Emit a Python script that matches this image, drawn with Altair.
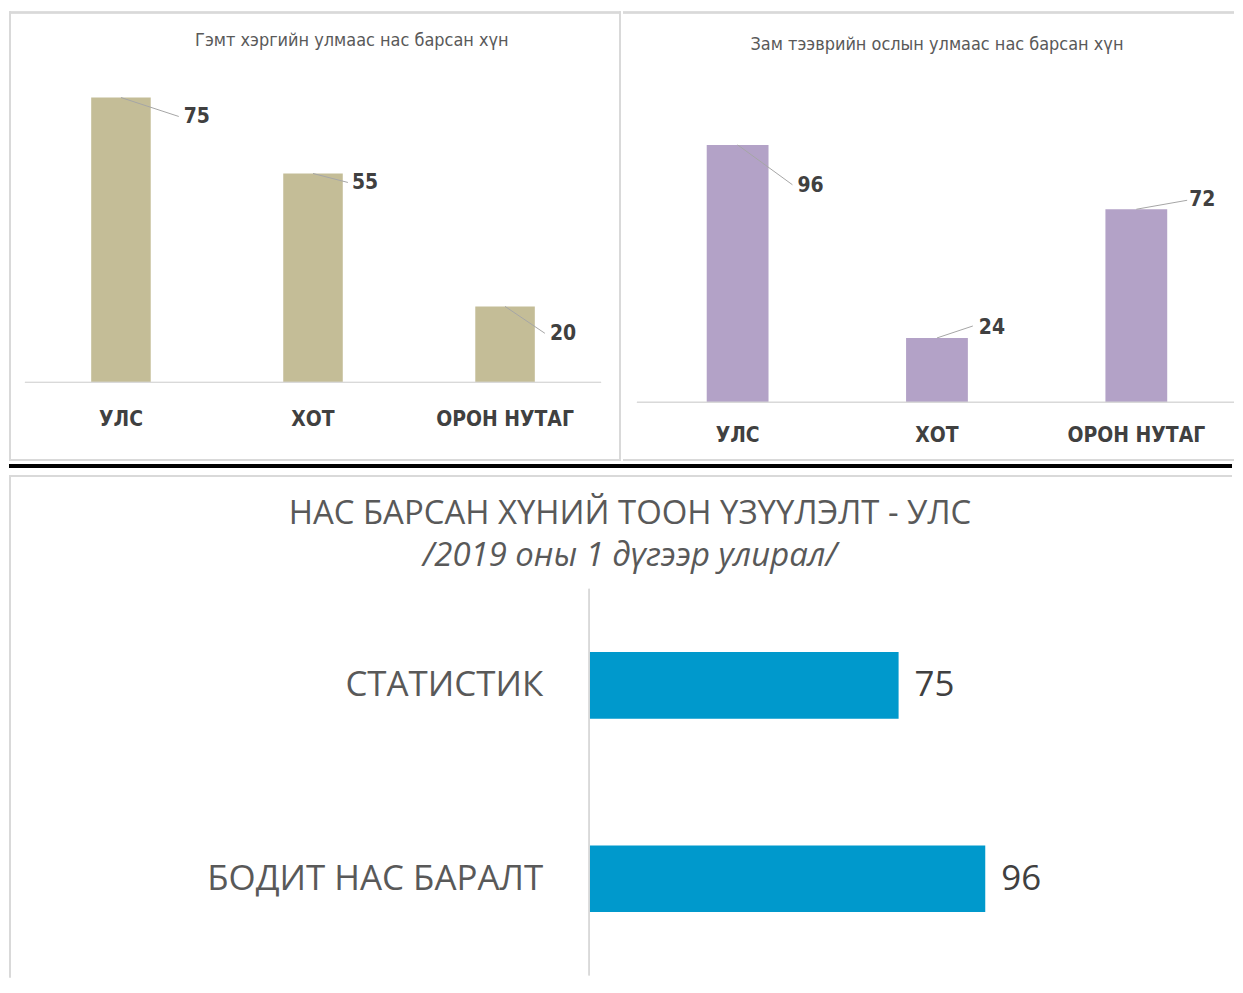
import altair as alt
import pandas as pd

# ---------------- data ----------------
regions = ["УЛС", "ХОТ", "ОРОН НУТАГ"]
crime_deaths = [75, 55, 20]
traffic_deaths = [96, 24, 72]
compare_labels = ["СТАТИСТИК", "БОДИТ НАС БАРАЛТ"]
compare_values = [75, 96]

title_crime = "Гэмт хэргийн улмаас нас барсан хүн"
title_traffic = "Зам тээврийн ослын улмаас нас барсан хүн"
title_main = "НАС БАРСАН ХҮНИЙ ТООН ҮЗҮҮЛЭЛТ - УЛС"
subtitle_main = "/2019 оны 1 дүгээр улирал/"

# ---------------- styles ----------------
NARROW = "Liberation Sans Narrow, DejaVu Sans Condensed, sans-serif"
MAIN = "Open Sans, Noto Sans, sans-serif"
BORDER = "#D9D9D9"
LEADER = "#A6A6A6"

TOP_H = 453
LEFT_W = 614
RIGHT_W = 613
FULL_W = 1227
STRIP_H = 12
BOTTOM_H = 504

# per-label offsets (pixels): (text dx, text dy, leader end dx, leader end dy)
crime_label_offsets = [(63, 20, 58, 19), (39, 10, 35, 9), (45, 28, 40, 27)]
traffic_label_offsets = [(60, 41, 55, 40), (42, -10, 36, -12), (53, -9, 51, -9)]


def text_chart(txt):
    return alt.Chart(pd.DataFrame({"t": [txt]}))


def column_panel(cats, vals, color, title, w, base_y, px_per_unit, x_range,
                 cat_y, title_xy, base_x, offsets, borders):
    df = pd.DataFrame({"cat": cats, "val": vals})
    d0 = -(TOP_H - base_y) / px_per_unit
    d1 = d0 + TOP_H / px_per_unit
    pad_inner = 0.69
    xsc = alt.Scale(range=x_range, paddingInner=pad_inner, paddingOuter=pad_inner / 2)
    ysc = alt.Scale(domain=[d0, d1], nice=False, zero=False)
    X = alt.X("cat:N", sort=cats, scale=xsc, axis=None)
    Y = alt.Y("val:Q", scale=ysc, axis=None)
    base = alt.Chart(df)

    layers = []
    layers.append(base.mark_bar(color=color).encode(x=X, y=Y, y2=alt.datum(0)))
    layers.append(base.mark_rule(color=BORDER, strokeWidth=1).encode(
        x=alt.value(base_x[0]), x2=alt.value(base_x[1]), y=alt.datum(0)))
    layers.append(base.mark_text(font=NARROW, fontSize=21, fontWeight="bold",
                                 color="#404040", baseline="middle").encode(
        x=X, y=alt.value(cat_y), text="cat:N"))
    for c, (tdx, tdy, ldx, ldy) in zip(cats, offsets):
        sub = base.transform_filter(alt.datum.cat == c)
        layers.append(sub.mark_rule(color=LEADER, strokeWidth=1,
                                    x2Offset=ldx, y2Offset=ldy).encode(
            x=X, x2="cat:N", y=Y, y2="val:Q"))
        layers.append(sub.mark_text(font=NARROW, fontSize=21, fontWeight="bold",
                                    color="#404040", align="left", baseline="middle",
                                    dx=tdx, dy=tdy).encode(
            x=X, y=Y, text="val:Q"))
    layers.append(text_chart(title).mark_text(font=NARROW, fontSize=18, color="#595959",
                                              baseline="middle").encode(
        x=alt.value(title_xy[0]), y=alt.value(title_xy[1]), text="t:N"))
    for b in borders:
        layers.append(base.mark_rule(color=BORDER, strokeWidth=2).encode(**b))
    return alt.layer(*layers).properties(width=w, height=TOP_H)


left = column_panel(
    regions, crime_deaths, "#C4BD97", title_crime, LEFT_W,
    base_y=374, px_per_unit=3.81, x_range=[16, 594], cat_y=412,
    title_xy=(344, 32), base_x=(16, 594), offsets=crime_label_offsets,
    borders=[
        dict(x=alt.value(0), x2=alt.value(LEFT_W), y=alt.value(3)),
        dict(x=alt.value(0), x2=alt.value(LEFT_W), y=alt.value(TOP_H - 1)),
        dict(x=alt.value(1), y=alt.value(2), y2=alt.value(TOP_H)),
        dict(x=alt.value(LEFT_W - 1), y=alt.value(2), y2=alt.value(TOP_H)),
    ])

right = column_panel(
    regions, traffic_deaths, "#B3A2C7", title_traffic, RIGHT_W,
    base_y=394, px_per_unit=2.69, x_range=[15, 615], cat_y=428,
    title_xy=(315, 36), base_x=(14, RIGHT_W), offsets=traffic_label_offsets,
    borders=[
        dict(x=alt.value(0), x2=alt.value(RIGHT_W), y=alt.value(3)),
        dict(x=alt.value(0), x2=alt.value(RIGHT_W), y=alt.value(TOP_H - 1)),
    ])

strip = alt.Chart(pd.DataFrame({"a": [0]})).mark_rect(color="black").encode(
    x=alt.value(0), x2=alt.value(FULL_W), y=alt.value(2), y2=alt.value(6)
).properties(width=FULL_W, height=STRIP_H)

# bottom panel
bdf = pd.DataFrame({"cat": compare_labels, "val": compare_values})
k = 4.14
zero_x = 582
bx0 = -zero_x / k
bx1 = bx0 + FULL_W / k
bxs = alt.Scale(domain=[bx0, bx1], nice=False, zero=False)
bys = alt.Scale(range=[114, 502], paddingInner=0.655, paddingOuter=0.3275)
BX = alt.X("val:Q", scale=bxs, axis=None)
BY = alt.Y("cat:N", sort=compare_labels, scale=bys, axis=None)
bb = alt.Chart(bdf)
bottom = alt.layer(
    bb.mark_bar(color="#0099CC").encode(x=BX, x2=alt.datum(0), y=BY),
    bb.mark_rule(color=BORDER, strokeWidth=1.5).encode(
        x=alt.datum(0), y=alt.value(114), y2=alt.value(502)),
    bb.mark_text(font=MAIN, fontSize=35, color="#595959", align="right",
                 baseline="middle").encode(x=alt.value(536), y=BY, text="cat:N"),
    bb.mark_text(font=MAIN, fontSize=35, color="#404040", align="left",
                 baseline="middle", dx=16).encode(x=BX, y=BY, text="val:Q"),
    text_chart(title_main).mark_text(font=MAIN, fontSize=33, color="#595959",
                                     baseline="middle").encode(
        x=alt.value(623), y=alt.value(39), text="t:N"),
    text_chart(subtitle_main).mark_text(font=MAIN, fontSize=33, color="#595959",
                                        fontStyle="italic", baseline="middle").encode(
        x=alt.value(623), y=alt.value(81), text="t:N"),
    bb.mark_rule(color=BORDER, strokeWidth=2).encode(
        x=alt.value(0), x2=alt.value(FULL_W), y=alt.value(1)),
    bb.mark_rule(color=BORDER, strokeWidth=2).encode(
        x=alt.value(1), y=alt.value(0), y2=alt.value(BOTTOM_H)),
).properties(width=FULL_W, height=BOTTOM_H)

chart = alt.vconcat(
    alt.hconcat(left, right, spacing=0),
    strip,
    bottom,
    spacing=0,
).properties(
    padding=0,
    background="white",
).configure_view(strokeWidth=0).configure_axis(disable=True)

chart.save("out.html", embed_options={"renderer": "svg", "actions": False})
